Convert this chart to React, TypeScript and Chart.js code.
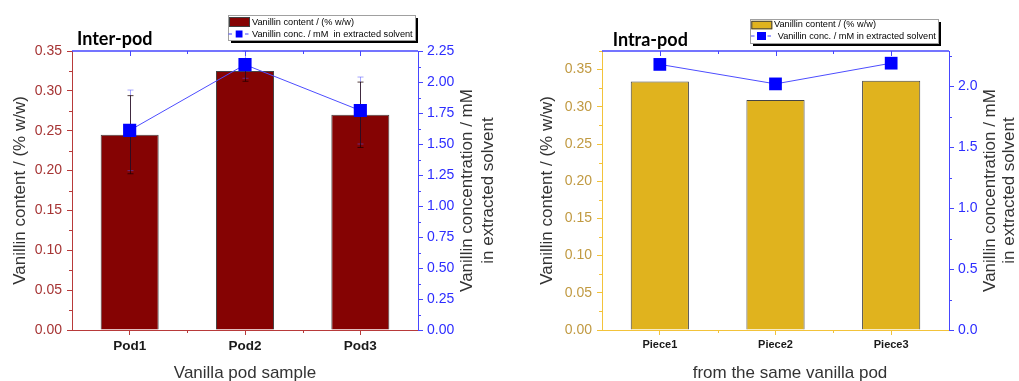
import React, { useEffect, useRef } from 'react';
import { Chart, registerables } from 'chart.js';

Chart.register(...registerables);

// ---------------- Data ----------------
const interCategories = ['Pod1', 'Pod2', 'Pod3'];
const interContent = [0.245, 0.325, 0.27];
const interContentErr = [0.049, 0.013, 0.041];
const interConc = [1.61, 2.14, 1.77];
const interConcErr = [0.325, 0.11, 0.27];
const interLeftTicks = [0, 0.05, 0.1, 0.15, 0.2, 0.25, 0.3, 0.35];
const interLeftMinor = [0.025, 0.075, 0.125, 0.175, 0.225, 0.275, 0.325];
const interRightTicks = [0, 0.25, 0.5, 0.75, 1.0, 1.25, 1.5, 1.75, 2.0, 2.25];
const interRightMinor = [0.125, 0.375, 0.625, 0.875, 1.125, 1.375, 1.625, 1.875, 2.125];

const intraCategories = ['Piece1', 'Piece2', 'Piece3'];
const intraContent = [0.334, 0.309, 0.335];
const intraConc = [2.18, 2.02, 2.19];
const intraLeftTicks = [0, 0.05, 0.1, 0.15, 0.2, 0.25, 0.3, 0.35];
const intraLeftMinor = [0.025, 0.075, 0.125, 0.175, 0.225, 0.275, 0.325, 0.375];
const intraRightTicks = [0, 0.5, 1.0, 1.5, 2.0];
const intraRightMinor = [0.25, 0.75, 1.25, 1.75, 2.25];

const legendContent = 'Vanillin content / (% w/w)';
const interLegendConc = 'Vanillin conc. / mM  in extracted solvent';
const intraLegendConc = 'Vanillin conc. / mM in extracted solvent';
const leftAxisTitle = 'Vanillin content / (% w/w)';
const rightAxisTitle = ['Vanillin concentration / mM', 'in extracted solvent'];

type Panel = {
  id: string;
  width: number;
  offsetX: number;
  plotLeft: number;
  plotRight: number;
  plotTop: number;
  plotBottom: number;
  categories: string[];
  content: number[];
  contentErr?: number[];
  conc: number[];
  concErr?: number[];
  yMax: number;
  y1Max: number;
  leftTicks: number[];
  leftMinor: number[];
  rightTicks: number[];
  rightMinor: number[];
  rightDecimals: number;
  barColor: string;
  leftAxisColor: string;
  leftLabelColor: string;
  xLabelSize: number;
  title: string;
  titleX: number;
  titleY: number;
  xTitle: string;
  xTitleX: number;
  leftTitleX: number;
  rightTitleX: [number, number];
  legendConc: string;
  legend: {
    x: number; y: number; w: number; h: number;
    sw: [number, number, number, number];
    t1x: number; r1y: number;
    d1: number; sq: [number, number, number, number]; d2: number;
    t2x: number; r2y: number;
  };
  markerRadius: number;
};

const BLUE_AXIS = '#4646ff';
const BLUE_LABEL = '#2d2dff';
const TITLE_COLOR = '#333333';
const FONT = "'Liberation Sans', Arial, sans-serif";

const inter: Panel = {
  id: 'inter',
  width: 510,
  offsetX: 0,
  plotLeft: 72,
  plotRight: 418,
  plotTop: 51,
  plotBottom: 330,
  categories: interCategories,
  content: interContent,
  contentErr: interContentErr,
  conc: interConc,
  concErr: interConcErr,
  yMax: 0.35,
  y1Max: 2.25,
  leftTicks: interLeftTicks,
  leftMinor: interLeftMinor,
  rightTicks: interRightTicks,
  rightMinor: interRightMinor,
  rightDecimals: 2,
  barColor: '#850303',
  leftAxisColor: '#b83a3a',
  leftLabelColor: '#a63434',
  xLabelSize: 13.5,
  title: 'Inter-pod',
  titleX: 77,
  titleY: 45,
  xTitle: 'Vanilla pod sample',
  xTitleX: 245,
  leftTitleX: 20,
  rightTitleX: [467, 488],
  legendConc: interLegendConc,
  legend: {
    x: 228, y: 15, w: 187, h: 25,
    sw: [229, 17, 21, 10],
    t1x: 252, r1y: 22.5,
    d1: 228.5, sq: [235.7, 30.5, 6.8, 7], d2: 245,
    t2x: 252, r2y: 34,
  },
  markerRadius: 9.3,
};

const intra: Panel = {
  id: 'intra',
  width: 509,
  offsetX: 510,
  plotLeft: 92,
  plotRight: 439,
  plotTop: 51,
  plotBottom: 330,
  categories: intraCategories,
  content: intraContent,
  conc: intraConc,
  yMax: 0.375,
  y1Max: 2.29,
  leftTicks: intraLeftTicks,
  leftMinor: intraLeftMinor,
  rightTicks: intraRightTicks,
  rightMinor: intraRightMinor,
  rightDecimals: 1,
  barColor: '#e0b31e',
  leftAxisColor: '#f3c33a',
  leftLabelColor: '#c19a42',
  xLabelSize: 11,
  title: 'Intra-pod',
  titleX: 102.7,
  titleY: 46,
  xTitle: 'from the same vanilla pod',
  xTitleX: 280,
  leftTitleX: 37,
  rightTitleX: [480, 499.5],
  legendConc: intraLegendConc,
  legend: {
    x: 240, y: 19, w: 188, h: 24,
    sw: [241.3, 20.8, 21, 8.5],
    t1x: 264, r1y: 24.5,
    d1: 241, sq: [247, 32, 9, 8], d2: 257.5,
    t2x: 267.7, r2y: 36,
  },
  markerRadius: 9.0,
};

function line(ctx: CanvasRenderingContext2D, x1: number, y1: number, x2: number, y2: number) {
  ctx.beginPath();
  ctx.moveTo(x1, y1);
  ctx.lineTo(x2, y2);
  ctx.stroke();
}

function makeDecor(p: Panel) {
  return {
    id: 'decor_' + p.id,
    afterDatasetDraw(chart: any, args: any) {
      if (args.index !== 0) return;
      const ctx: CanvasRenderingContext2D = chart.ctx;
      const xs = chart.scales.x;
      const ys = chart.scales.y;
      const y1 = chart.scales.y1;
      const cap = 3;
      ctx.save();
      ctx.lineWidth = 1;
      if (p.concErr) {
        ctx.strokeStyle = 'rgba(80,80,255,0.5)';
        p.conc.forEach((v, i) => {
          const e = p.concErr![i];
          const cx = Math.round(xs.getPixelForValue(i)) + 0.5;
          const t = y1.getPixelForValue(v + e);
          const b = y1.getPixelForValue(v - e);
          line(ctx, cx, t, cx, b);
          line(ctx, cx - cap, t, cx + cap, t);
          line(ctx, cx - cap, b, cx + cap, b);
        });
      }
      if (p.contentErr) {
        ctx.strokeStyle = 'rgba(30,0,0,0.75)';
        p.content.forEach((v, i) => {
          const e = p.contentErr![i];
          const cx = Math.round(xs.getPixelForValue(i)) + 0.5;
          const t = ys.getPixelForValue(v + e);
          const b = ys.getPixelForValue(v - e);
          line(ctx, cx, t, cx, b);
          line(ctx, cx - cap, t, cx + cap, t);
          line(ctx, cx - cap, b, cx + cap, b);
        });
      }
      ctx.restore();
    },
    afterDraw(chart: any) {
      const ctx: CanvasRenderingContext2D = chart.ctx;
      const ca = chart.chartArea;
      const xs = chart.scales.x;
      const ys = chart.scales.y;
      const y1 = chart.scales.y1;
      ctx.save();
      ctx.lineWidth = 1;

      // minor ticks left
      ctx.strokeStyle = p.leftAxisColor;
      p.leftMinor.forEach((v) => {
        const py = Math.round(ys.getPixelForValue(v)) + 0.5;
        line(ctx, ca.left - 3, py, ca.left, py);
      });
      // minor ticks bottom at category boundaries
      for (let i = 0; i < p.categories.length - 1; i++) {
        const px = Math.round(xs.getPixelForValue(i + 0.5)) + 0.5;
        line(ctx, px, ca.bottom, px, ca.bottom + 3);
      }
      // minor ticks right
      ctx.strokeStyle = BLUE_AXIS;
      p.rightMinor.forEach((v) => {
        const py = Math.round(y1.getPixelForValue(v)) + 0.5;
        line(ctx, ca.right, py, ca.right + 3, py);
      });

      // top axis line with inward ticks
      ctx.strokeStyle = BLUE_AXIS;
      ctx.lineWidth = 1.5;
      line(ctx, ca.left, ca.top, ca.right, ca.top);
      ctx.lineWidth = 1;
      for (let i = 0; i < p.categories.length; i++) {
        const px = Math.round(xs.getPixelForValue(i)) + 0.5;
        line(ctx, px, ca.top, px, ca.top + 5);
        if (i < p.categories.length - 1) {
          const bx = Math.round(xs.getPixelForValue(i + 0.5)) + 0.5;
          line(ctx, bx, ca.top, bx, ca.top + 3);
        }
      }

      // axis titles
      const midY = (ca.top + ca.bottom) / 2;
      ctx.fillStyle = TITLE_COLOR;
      ctx.font = `17px ${FONT}`;
      ctx.textAlign = 'center';
      ctx.textBaseline = 'middle';
      ctx.save();
      ctx.translate(p.leftTitleX, midY);
      ctx.rotate(-Math.PI / 2);
      ctx.fillText(leftAxisTitle, 0, 0);
      ctx.restore();
      rightAxisTitle.forEach((t, k) => {
        ctx.save();
        ctx.translate(p.rightTitleX[k], midY);
        ctx.rotate(-Math.PI / 2);
        ctx.fillText(t, 0, 0);
        ctx.restore();
      });
      ctx.fillText(p.xTitle, p.xTitleX, 373);

      // panel title
      ctx.fillStyle = '#000';
      ctx.font = `bold 18px Lato, 'Open Sans', sans-serif`;
      ctx.textAlign = 'left';
      ctx.textBaseline = 'alphabetic';
      ctx.fillText(p.title, p.titleX, p.titleY);

      // legend
      const L = p.legend;
      ctx.fillStyle = '#000';
      ctx.fillRect(L.x + 3, L.y + 3, L.w, L.h);
      ctx.fillStyle = '#fff';
      ctx.fillRect(L.x, L.y, L.w, L.h);
      ctx.strokeStyle = '#a0a0a0';
      ctx.strokeRect(L.x + 0.5, L.y + 0.5, L.w, L.h);
      ctx.fillStyle = p.barColor;
      ctx.fillRect(L.sw[0], L.sw[1], L.sw[2], L.sw[3]);
      ctx.strokeStyle = '#404040';
      ctx.strokeRect(L.sw[0] + 0.5, L.sw[1] + 0.5, L.sw[2] - 1, L.sw[3] - 1);
      ctx.fillStyle = '#000';
      ctx.font = `9.2px ${FONT}`;
      ctx.textBaseline = 'middle';
      ctx.fillText(legendContent, L.t1x, L.r1y);
      ctx.strokeStyle = BLUE_AXIS;
      line(ctx, L.d1, L.r2y, L.d1 + 3.5, L.r2y);
      line(ctx, L.d2, L.r2y, L.d2 + 3.5, L.r2y);
      ctx.fillStyle = '#0000ff';
      ctx.fillRect(L.sq[0], L.sq[1], L.sq[2], L.sq[3]);
      ctx.fillStyle = '#000';
      ctx.fillText(p.legendConc, L.t2x, L.r2y);

      ctx.restore();
    },
  };
}

function PanelChart({ p }: { p: Panel }) {
  const ref = useRef<HTMLCanvasElement | null>(null);
  useEffect(() => {
    if (!ref.current) return;
    const H = 381;
    const leftW = p.plotLeft;
    const rightW = p.width - p.plotRight;
    const bottomH = H - p.plotBottom;
    const chart = new Chart(ref.current, {
      type: 'bar',
      data: {
        labels: p.categories,
        datasets: [
          {
            type: 'bar',
            label: legendContent,
            data: p.content,
            yAxisID: 'y',
            backgroundColor: p.barColor,
            borderColor: '#454545',
            borderWidth: 1,
            barPercentage: 1,
            categoryPercentage: 0.503,
            order: 1,
          } as any,
          {
            type: 'line',
            label: p.legendConc,
            data: p.conc,
            yAxisID: 'y1',
            borderColor: '#4d4dff',
            borderWidth: 1,
            pointStyle: 'rect',
            pointRadius: p.markerRadius,
            pointBackgroundColor: '#0000ff',
            pointBorderColor: '#0000ff',
            pointBorderWidth: 0,
            fill: false,
            tension: 0,
            order: 0,
          } as any,
        ],
      },
      options: {
        responsive: false,
        animation: false,
        devicePixelRatio: 1,
        layout: { padding: { top: p.plotTop, left: 0, right: 0, bottom: 0 } },
        plugins: {
          legend: { display: false },
          tooltip: { enabled: false },
          title: { display: false },
        },
        scales: {
          x: {
            type: 'category',
            position: 'bottom',
            offset: true,
            grid: {
              display: true,
              drawOnChartArea: false,
              drawTicks: true,
              tickLength: 5,
              color: p.leftAxisColor,
              offset: false,
            },
            border: { display: true, color: p.leftAxisColor, width: 1 },
            ticks: {
              color: '#1a1a1a',
              font: { family: FONT, size: p.xLabelSize, weight: 'bold' },
              padding: 3,
              maxRotation: 0,
              autoSkip: false,
            },
            afterFit: (s: any) => {
              s.height = bottomH;
            },
          },
          y: {
            type: 'linear',
            position: 'left',
            min: 0,
            max: p.yMax,
            grid: {
              display: true,
              drawOnChartArea: false,
              drawTicks: true,
              tickLength: 5,
              color: p.leftAxisColor,
            },
            border: { display: true, color: p.leftAxisColor, width: 1 },
            ticks: {
              color: p.leftLabelColor,
              font: { family: FONT, size: 14 },
              padding: 5,
              callback: (v: any) => Number(v).toFixed(2),
            },
            afterBuildTicks: (s: any) => {
              s.ticks = p.leftTicks.map((v) => ({ value: v }));
            },
            afterFit: (s: any) => {
              s.width = leftW;
            },
          },
          y1: {
            type: 'linear',
            position: 'right',
            min: 0,
            max: p.y1Max,
            grid: {
              display: true,
              drawOnChartArea: false,
              drawTicks: true,
              tickLength: 5,
              color: BLUE_AXIS,
            },
            border: { display: true, color: BLUE_AXIS, width: 1 },
            ticks: {
              color: BLUE_LABEL,
              font: { family: FONT, size: 14 },
              padding: 4,
              callback: (v: any) => Number(v).toFixed(p.rightDecimals),
            },
            afterBuildTicks: (s: any) => {
              s.ticks = p.rightTicks.map((v) => ({ value: v }));
            },
            afterFit: (s: any) => {
              s.width = rightW;
            },
          },
        },
      } as any,
      plugins: [makeDecor(p)],
    });
    return () => chart.destroy();
  }, [p]);
  return (
    <canvas
      ref={ref}
      width={p.width}
      height={381}
      style={{ position: 'absolute', left: p.offsetX, top: 0, width: p.width, height: 381, display: 'block' }}
    />
  );
}

export default function App() {
  return (
    <div style={{ position: 'absolute', left: 0, top: 0, width: 1019, height: 381, background: '#ffffff', overflow: 'hidden' }}>
      <PanelChart p={inter} />
      <PanelChart p={intra} />
    </div>
  );
}
